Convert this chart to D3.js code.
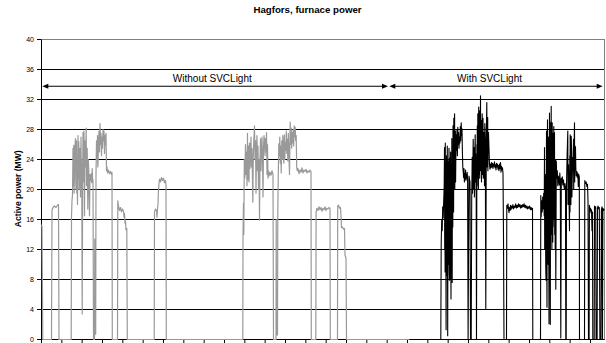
<!DOCTYPE html>
<html><head><meta charset="utf-8">
<script src="https://cdn.jsdelivr.net/npm/d3@7"></script>
<style>html,body{margin:0;padding:0;background:#fff;} svg{display:block;}</style>
</head><body><svg id="c" width="606" height="343"></svg>
<script>
const chartTitle = "Hagfors, furnace power";
const yTitle = "Active power (MW)";
const yTicks = [0, 4, 8, 12, 16, 20, 24, 28, 32, 36, 40];
const xTickCount = 28;
const xTickStep = 20.333;          // time units between tick marks
const xMax = 563;
const periodLabels = ["Without SVCLight", "With SVCLight"];
const periodFrom = [1.3, 348.3];
const periodTo = [347, 561.7];
const periodLabelAt = [171.3, 448.5];
const periodLevel = 33.7;

// [time, MW]
const withoutSVC = [
[0,15.3],[0.5,15.0],[1.3,0],
[10,0],[10.5,17.2],[11.5,17.6],[13,17.8],[14.5,17.6],[16,17.9],[17,18.0],[17.5,0],
[29.7,0],[30,16.4],[30.5,18.5],[31,19.3],[31.5,25.5],[31.8,20.5],[32,24],[32.3,25.9],[32.6,19.5],[33,22],[33.5,25.8],[34,26.8],[34.3,21],[34.5,20],[35,26.5],[35.3,19.5],[35.5,24.2],[36,18],[36.5,27.2],[36.8,21.5],[37,23],[37.3,26.4],[37.6,20],[38,21],[38.5,25.5],[39,19],[39.5,27.0],[39.8,21],[40,24],[40.3,20],[40.7,3.4],[41.2,22],[41.5,27.6],[41.8,21],[42,25],[42.5,27.8],[43,16.5],[43.5,26.5],[44,23],[44.7,28.2],[45,20.5],[45.2,22],[45.7,25.5],[46.3,17.4],[46.8,24],[47.3,22.5],[48,16.5],[48.5,22],[49,21.2],[49.7,22.1],[50.2,20.9],[50.7,22.8],[51.2,21],[51.5,21.3],[52,0],
[52.3,0],[53,0],[53.3,13.4],[53.7,0.7],[54.2,0.7],[54.5,22],[55,26.5],[55.5,24],[56,27.2],[56.3,23],[56.5,23.5],[57,26],[57.5,27.8],[58,25],[58.5,28.8],[59,26],[59.5,27.5],[60,24.5],[60.5,27],[61,25.5],[61.5,28],[62,26.5],[62.5,27.8],[63,24.8],[63.5,27.2],[64,26],[64.5,27.5],[65,22.5],[65.5,23],[66,22.2],[67,22.6],[68,22.1],[69,22.4],[70,22.0],[70.5,22.3],[70.8,0],
[76,0],[76.3,18.5],[77,17.8],[78,17.2],[79,17.6],[80,17.0],[81,17.4],[82,17.1],[82.5,16.3],[83,16.8],[83.5,15.5],[84,15.8],[84.5,14.6],[85.3,14.8],[85.8,0],
[112.7,0],[113,17.0],[114,17.4],[115,17.2],[115.5,16.3],[116,17.5],[116.5,18.0],[117,20.0],[117.5,20.8],[118,21.4],[119,21.0],[120,21.6],[121,21.2],[122,21.5],[123,20.9],[124,21.2],[124.5,20.7],[124.8,0],
[201.3,0],[201.5,13.6],[202,18.2],[202.3,14],[202.8,24],[203.3,21.5],[204,26],[204.5,22],[205,25],[205.5,20.5],[206,27.5],[206.3,21.3],[207,25.8],[207.5,21],[208,26.2],[208.5,22.8],[209,25],[209.5,27],[210,23],[210.5,25.5],[211.3,18.3],[211.8,24.5],[212.3,26.5],[213,28.5],[213.5,24],[214,26.5],[214.5,19.5],[215,25.5],[215.5,27.2],[216,22.5],[216.5,25.8],[217,20],[217.5,24],[218,15.9],[218.5,24],[219,26.8],[219.5,22.5],[220,25],[220.5,27],[221,24],[221.5,19],[222,25.5],[222.5,27.2],[223,26.4],[223.5,24.5],[224,26.8],[224.5,25],[225,27.6],[225.5,22],[226,26],[226.5,21.5],[227,22.5],[227.5,21.8],[228.5,22.3],[229.5,21.9],[230.5,22.5],[231.5,22.0],[232,0],
[234.5,0],[234.7,16],[235,0.6],[236,0.6],
[236.3,17.2],[236.8,22.2],[237.3,26.1],[237.8,24.5],[238.3,27],[238.8,23.5],[239.3,25.8],[239.7,22.2],[240.3,26.5],[240.8,24],[241.3,27.2],[241.8,25],[242.3,23.5],[242.8,27.3],[243.3,24],[243.8,26.3],[244.3,25.2],[244.8,27.8],[245.3,24.8],[245.8,26.7],[246.3,23.8],[246.8,27.5],[247.3,25.5],[248,22],[248.7,29],[249.2,26],[249.7,28.2],[250.2,25.5],[250.7,27.6],[251.2,26.2],[251.7,28],[252.2,25.8],[252.7,28.5],[253.2,27],[253.7,28.3],[254.2,26.5],[254.7,27.2],[255.2,23],[255.7,22.5],[256.5,22.8],[257.5,22.1],[258.5,22.6],[259.5,22.3],[260.5,22.9],[261.5,22.2],[262.5,22.6],[263.5,22.4],[264.5,22.7],[265.5,22.2],[266.5,22.5],[267.5,22.3],[268.5,22.6],[269.5,22.4],[269.8,0],
[274.3,0],[274.6,17.0],[275.5,17.5],[276.5,17.2],[277.5,17.7],[278.5,17.3],[279.5,17.6],[280.5,17.1],[281.5,17.5],[282.5,17.3],[283.5,17.7],[284.5,17.2],[285.5,17.5],[286.5,17.4],[287.5,17.6],[288.5,17.5],[288.8,0],
[296,0],[296.2,17.8],[297,17.9],[298,17.5],[299,17.6],[299.5,16.5],[300,14.9],[301,15.0],[302,14.7],[303,14.8],[303.5,11.2],[304.5,10.9],[305,0],[368,0]
];

const withSVC = [
[368,0],[399.3,0],
[399.7,12.8],[400.2,15.9],[400.7,14.5],[401.2,17.7],[401.7,16.2],[402.2,18.5],[402.7,20.5],
[403,25.6],[403.2,12],[403.4,18],[403.6,9],[403.8,26.2],[404,14],[404.2,22],[404.4,10],[404.6,1.3],[404.8,20],[405,24.5],[405.2,11],[405.4,19],[405.6,8.5],[405.8,25.8],[406,13],[406.2,0.5],[406.5,22],[406.7,23.8],[406.9,10],[407.1,20],[407.3,12.5],[407.5,25.5],[407.7,9],[407.9,7.9],[408.1,21],[408.3,24.2],[408.5,10.5],[408.7,18.5],[408.9,8],[409.1,25],[409.3,12],[409.5,5.4],[409.7,20],[409.9,23.5],[410.1,11],[410.3,26.8],[410.5,14],[410.7,7.6],[410.9,22],[411.1,25.2],[411.3,15],
[411.5,28.5],[411.9,22.5],[412.1,17],[412.3,29.5],[412.7,25.5],[413.1,30.1],[413.3,20],[413.5,24.4],[413.9,27.8],[414.1,21],[414.3,23.8],[414.7,27.3],[415.1,25.2],[415.5,28.0],[415.9,24.5],[416.3,28.3],[416.7,26.0],[417.1,27.6],[417.5,25.5],[418,27.0],[418.4,26.2],[418.8,28.4],[419.2,26.5],[419.7,28.9],[420.1,27.2],[420.5,28.1],[420.9,25.0],[421.3,23.0],[421.7,22.4],[422.1,21.6],[422.5,22.8],[422.9,21.0],[423.3,22.1],[423.7,21.4],[424.1,22.6],[424.5,21.2],[424.9,22.0],[425.3,21.5],[425.7,22.3],[426.1,21.3],[426.6,0],[427,11],[427.5,21.8],[428,21.4],[428.5,21],[429,0],
[429.7,0],[430.2,18.7],[430.7,24.3],[431,19.5],[431.2,21],[431.7,26.7],[432,20],[432.2,22],[432.7,25.6],[432.9,19],[433.2,23.5],[433.7,27.3],[434,21],[434.2,24.8],[434.7,19],[435,0],[435.4,26],[435.6,20.5],[435.8,28.5],[436.1,21.5],[436.3,30.1],[436.7,26.5],[436.9,20],[437.2,31.0],[437.4,22],[437.6,28.2],[438,30.5],[438.2,21.5],[438.4,27],[438.7,23],[439,32.5],[439.2,22.5],[439.4,28.5],[439.8,29.2],[440,21],[440.2,26.5],[440.7,30.1],[440.9,22],[441.1,27.2],[441.5,29.5],[441.8,21.5],[442.3,27.6],[442.8,25.5],[443,20.5],[443.3,28.8],[443.8,26],[444.3,4.1],[444.8,27.2],[445.3,31.6],[445.5,23],[445.7,28.5],[446.2,29.6],[446.4,22.5],[446.6,26.8],[447,27.6],[447.5,25.5],[448,23.3],[448.5,22.7],[449,23.4],[449.5,22.9],[450,23.6],[450.5,23.0],[451,23.5],[451.5,22.8],[452,23.4],[452.5,23.1],[453,23.7],[453.5,22.9],[454,23.3],[454.5,22.6],[455,23.5],[455.5,23.0],[456,23.4],[456.5,22.7],[457,23.2],[457.5,22.5],[458,23.4],[458.5,22.8],[459,23.6],[459.5,22.3],[460,23.1],[460.5,22.6],[461,22.9],[461.5,22.2],[462,13.6],[462.5,0],
[465,0],[465.3,17.9],[466,17.5],[466.5,18.1],[467,17.4],[467.5,16.9],[468,17.6],[468.5,17.2],[469,17.9],[469.5,17.3],[470,17.8],[470.7,17.5],[471.4,18.0],[472.1,17.4],[472.8,17.8],[473.5,17.6],[474.2,18.1],[474.9,17.5],[475.6,17.9],[476.3,17.6],[477,18.1],[477.7,17.7],[478.4,18.0],[479.1,17.5],[479.8,17.9],[480.5,17.6],[481.2,18.0],[481.9,17.7],[482.6,18.1],[483.3,17.6],[484,17.9],[484.7,17.5],[485.4,17.8],[486.1,17.4],[486.8,17.7],[487.5,17.5],[488.2,17.8],[488.9,17.3],[489.6,17.6],[490.3,17.3],[491,17.5],[491.3,0],
[499,0],[499.3,19.2],[499.7,16.4],[500.2,18.5],[500.7,17.0],[501.2,19.0],[501.7,17.4],[502.2,19.5],[502.7,16.5],[503,25.6],[503.2,12],[503.5,14.5],[503.7,20],[504,22],[504.2,10],[504.5,7.9],[504.7,18],[505,27.8],[505.2,12],[505.5,4.3],[505.7,21],[506,29.3],[506.2,14],[506.5,18],[506.7,10],[507,27],[507.2,15],[507.5,2.1],[507.7,20],[508,30.2],[508.2,13],[508.4,24],[508.6,11],[508.8,2.0],[509,19],[509.2,29],[509.4,16],[509.7,31.1],[509.9,14],[510.2,26],[510.4,12],[510.7,28.9],[510.9,17],[511.1,22],[511.3,13],[511.5,27.5],[511.7,15],[512,18.5],[512.3,28.4],[512.5,16],[512.8,25],[513,27.6],[513.2,14],[513.5,22],[513.7,12],[514,24],[514.3,6.7],[514.8,23.8],[515.3,21.5],[515.8,22.5],[516.3,20.5],[516.8,21.8],[517.3,21.3],[517.8,20.6],[518.3,22.2],[518.8,21.0],[519.3,0.2],[519.8,21.5],[520.3,20.9],[520.8,21.7],[521.3,20.6],[522,21.3],[522.5,20.4],[523,20.0],[523.5,20.8],[524,20.2],[524.3,0],
[524.7,0],[525,20.4],[525.5,24],[526.3,27.8],[526.5,18],[526.8,22],[527,23.3],[527.5,19],[528,14.5],[528.3,24.5],[528.5,17],[528.7,27.3],[529.2,23],[529.4,18],[529.7,27.1],[530.2,25],[530.4,19],[530.7,21.3],[531.3,24.3],[531.7,22.5],[532,26.7],[532.2,20],[532.5,24.5],[533,28.9],[533.2,21],[533.5,25.8],[534,25.6],[534.3,23],[534.7,21.8],[535.3,22.4],[535.8,21.6],[536.3,22.2],[536.8,20.4],[537.3,22.0],[537.8,21.7],[538,0],
[538.7,0],[543,0],[543.3,21.2],[544,20.8],[544.7,21.0],[545.3,20.4],[546,20.7],[546.5,18.5],[547,0],[547.6,0],[547.9,17.9],[548.5,17.2],[549,17.5],[549.5,16.9],[550,17.3],[550.5,14.5],[551,17.0],[551.3,0],[552.7,0],[553,17.8],[553.5,17.5],[554.2,17.7],[554.6,0],[555.6,0],[556,17.5],[556.6,17.8],[557.2,17.4],[557.8,17.6],[558.4,0],[559.5,0],[559.9,17.3],[560.5,17.7],[561,0],[561.4,17.5],[562,17.2],[562.7,17.4]
];

const svg = d3.select("#c");
const font = "'Liberation Sans', Arial, sans-serif";
const x = d3.scaleLinear().domain([0, xMax]).range([41, 604]);
const y = d3.scaleLinear().domain([0, 40]).range([339, 39]);
const xTicks = d3.range(xTickCount).map(k => k * xTickStep);

// gridlines
svg.append("g").selectAll("line")
  .data(yTicks.filter(v => v > 0 && v < 40))
  .join("line")
  .attr("x1", x(0) + 0.5).attr("x2", x(xMax) + 0.5)
  .attr("y1", d => y(d) + 0.5).attr("y2", d => y(d) + 0.5)
  .attr("stroke", "#000").attr("stroke-width", 1);

// plot border
svg.append("rect")
  .attr("x", x(0) + 0.5).attr("y", y(40) + 0.5)
  .attr("width", x(xMax) - x(0)).attr("height", y(0) - y(40))
  .attr("fill", "none").attr("stroke", "#808080").attr("stroke-width", 1);

// axes
const yAxis = svg.append("g").attr("transform", `translate(${x(0)},0)`)
  .call(d3.axisLeft(y).tickValues(yTicks).tickSize(4).tickSizeOuter(0).tickPadding(3));
yAxis.selectAll("text").attr("font-family", font).attr("font-size", 7).attr("fill", "#000");
yAxis.selectAll("line,path").attr("stroke", "#000");

const xAxis = svg.append("g").attr("transform", `translate(0,${y(0)})`)
  .call(d3.axisBottom(x).tickValues(xTicks).tickSize(4).tickSizeOuter(0).tickFormat(""));
xAxis.selectAll("line,path").attr("stroke", "#000");

// series
const line = d3.line().x(d => x(d[0]) + 0.5).y(d => y(d[1]) + 0.5);
svg.append("clipPath").attr("id", "clip").append("rect")
  .attr("x", x(0)).attr("y", y(40) - 2).attr("width", x(xMax) - x(0) + 1).attr("height", y(0) - y(40) + 4);
const plot = svg.append("g").attr("clip-path", "url(#clip)");
plot.append("path").datum(withoutSVC).attr("d", line)
  .attr("fill", "none").attr("stroke", "#999999").attr("stroke-width", 1.2).attr("stroke-linejoin", "round");
plot.append("path").datum(withSVC).attr("d", line)
  .attr("fill", "none").attr("stroke", "#000").attr("stroke-width", 1.1).attr("stroke-linejoin", "round");

// period arrows
const ann = svg.append("g");
periodLabels.forEach((lab, i) => {
  const x1 = x(periodFrom[i]), x2 = x(periodTo[i]), yy = y(periodLevel);
  ann.append("line").attr("x1", x1 + 4).attr("x2", x2 - 4).attr("y1", yy).attr("y2", yy)
    .attr("stroke", "#000").attr("stroke-width", 1);
  ann.append("path").attr("d", `M${x1},${yy}L${x1 + 6},${yy - 2.6}L${x1 + 6},${yy + 2.6}Z`).attr("fill", "#000");
  ann.append("path").attr("d", `M${x2},${yy}L${x2 - 6},${yy - 2.6}L${x2 - 6},${yy + 2.6}Z`).attr("fill", "#000");
  ann.append("text").attr("x", x(periodLabelAt[i])).attr("y", yy - 4)
    .attr("text-anchor", "middle").attr("font-family", font).attr("font-size", 10)
    .attr("fill", "#000").text(lab);
});

// titles
svg.append("text").attr("x", 307.5).attr("y", 13.3).attr("text-anchor", "middle")
  .attr("font-family", font).attr("font-size", 9.7).attr("font-weight", "bold").text(chartTitle);
svg.append("text").attr("transform", "translate(20.5,188.7) rotate(-90)").attr("text-anchor", "middle")
  .attr("font-family", font).attr("font-size", 8.6).attr("font-weight", "bold").text(yTitle);
</script>
</body></html>
